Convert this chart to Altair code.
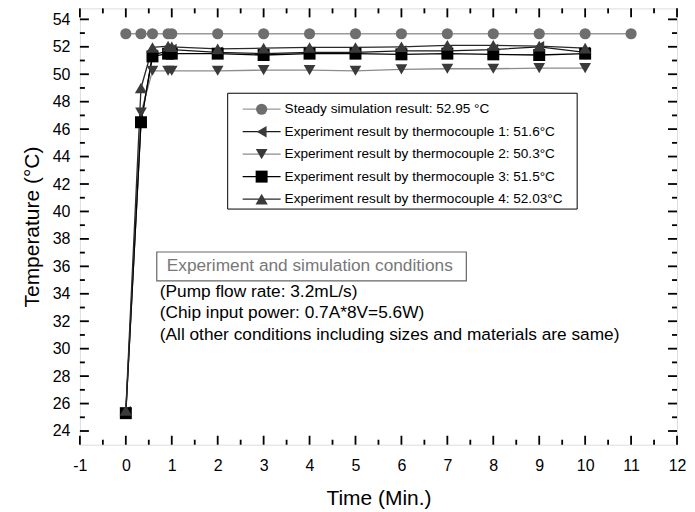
import altair as alt
import pandas as pd

# ---------------- data ----------------
t_sim = [0, 0.33, 0.58, 0.92, 1, 2, 3, 4, 5, 6, 7, 8, 9, 10, 11]
y_sim = [52.95] * 15

t_exp = [0, 0.33, 0.58, 0.92, 1, 2, 3, 4, 5, 6, 7, 8, 9, 10]
tc1 = [25.4, 46.5, 51.4, 51.7, 51.8, 51.6, 51.5, 51.6, 51.6, 51.7, 51.7, 51.8, 52.0, 51.6]
tc2 = [25.3, 47.2, 50.25, 50.25, 50.25, 50.25, 50.3, 50.3, 50.25, 50.35, 50.4, 50.4, 50.45, 50.45]
tc3 = [25.3, 46.5, 51.3, 51.5, 51.5, 51.5, 51.4, 51.5, 51.5, 51.45, 51.5, 51.45, 51.4, 51.5]
tc4 = [25.5, 49.0, 51.95, 52.05, 52.0, 51.85, 51.9, 51.95, 51.95, 52.0, 52.1, 52.1, 52.05, 51.9]

series = ["Steady simulation result: 52.95 °C",
          "Experiment result by thermocouple 1: 51.6°C",
          "Experiment result by thermocouple 2: 50.3°C",
          "Experiment result by thermocouple 3: 51.5°C",
          "Experiment result by thermocouple 4: 52.03°C"]
shapes = ["circle", "triangle-left", "triangle-down", "square", "triangle-up"]
sizes = [125, 150, 150, 75, 150]
marker_colors = ["#6e6e6e", "#3a3a3a", "#3a3a3a", "#000000", "#3a3a3a"]
line_colors = ["#9a9a9a", "#1a1a1a", "#8c8c8c", "#000000", "#2a2a2a"]

x_major = list(range(-1, 13))
x_minor = [v + 0.5 for v in range(-1, 12)]
y_major = list(range(24, 55, 2))
y_minor = list(range(25, 55, 2))

cond_title = "Experiment and simulation conditions"
cond_lines = ["(Pump flow rate: 3.2mL/s)",
              "(Chip input power: 0.7A*8V=5.6W)",
              "(All other conditions including sizes and materials are same)"]

# ---------------- tables ----------------
rows = []
for t, v in zip(t_sim, y_sim):
    rows.append({"t": t, "v": v, "series": series[0]})
for s, vals in zip(series[1:], [tc1, tc2, tc3, tc4]):
    for t, v in zip(t_exp, vals):
        rows.append({"t": t, "v": v, "series": s})
df = pd.DataFrame(rows)

leg = pd.DataFrame({"idx": list(range(5)), "series": series})

W, H = 598, 437
FONT = "Liberation Sans"

xs = alt.Scale(domain=[-1, 12], nice=False, zero=False)
ys = alt.Scale(domain=[23, 54.8], nice=False, zero=False)
stroke_scale = alt.Scale(domain=series, range=line_colors)
fill_scale = alt.Scale(domain=series, range=marker_colors)
shape_scale = alt.Scale(domain=series, range=shapes)
size_scale = alt.Scale(domain=series, range=sizes)

xaxis = alt.Axis(values=x_major, ticks=False, tickSize=0, domain=False, grid=False,
                 labelFontSize=16, labelPadding=13, labelColor="black", labelFont=FONT,
                 labelOverlap=False, labelExpr="'' + datum.value",
                 title="Time (Min.)", titleFontSize=21, titleFontWeight="normal",
                 titleFont=FONT, titlePadding=14, titleColor="black", labelFlush=False)
yaxis = alt.Axis(values=y_major, ticks=False, tickSize=0, domain=False, grid=False,
                 labelFontSize=16, labelPadding=10, labelColor="black", labelFont=FONT,
                 labelOverlap=False, labelExpr="'' + datum.value",
                 title="Temperature (°C)", titleFontSize=21, titleFontWeight="normal",
                 titleFont=FONT, titlePadding=10, titleColor="black", labelFlush=False)

base = alt.Chart(df)
lines = base.mark_line(strokeWidth=1.3).encode(
    x=alt.X("t:Q", scale=xs, axis=xaxis),
    y=alt.Y("v:Q", scale=ys, axis=yaxis),
    stroke=alt.Stroke("series:N", scale=stroke_scale, legend=None),
    detail="series:N",
    order="t:Q",
)
points = base.mark_point(filled=True, opacity=1, strokeWidth=0).encode(
    x=alt.X("t:Q", scale=xs, axis=xaxis),
    y=alt.Y("v:Q", scale=ys, axis=yaxis),
    fill=alt.Fill("series:N", scale=fill_scale, legend=None),
    shape=alt.Shape("series:N", scale=shape_scale, legend=None),
    size=alt.Size("series:N", scale=size_scale, legend=None),
)

def xticks(vals, length, top):
    d = pd.DataFrame({"v": vals})
    if top:
        yy, yy2 = alt.value(0), alt.value(length)
    else:
        yy, yy2 = alt.value(H), alt.value(H - length)
    return alt.Chart(d).mark_rule(color="black", strokeWidth=1.8).encode(
        x=alt.X("v:Q", scale=xs, axis=xaxis), y=yy, y2=yy2)

def yticks(vals, length, right):
    d = pd.DataFrame({"v": vals})
    if right:
        xx, xx2 = alt.value(W), alt.value(W - length)
    else:
        xx, xx2 = alt.value(0), alt.value(length)
    return alt.Chart(d).mark_rule(color="black", strokeWidth=1.8).encode(
        y=alt.Y("v:Q", scale=ys, axis=yaxis), x=xx, x2=xx2)

ticks = [xticks(x_major, 9, False), xticks(x_minor, 5, False),
         xticks(x_major, 9, True), xticks(x_minor, 5, True),
         yticks(y_major, 9, False), yticks(y_minor, 5, False),
         yticks(y_major, 9, True), yticks(y_minor, 5, True)]

main = alt.layer(lines, points, *ticks)

# ---------------- legend (hand drawn box) ----------------
one = pd.DataFrame({"a": [0]})
ly = alt.Scale(domain=[0, 4], range=[101, 191])
leg_box = alt.Chart(one).mark_rect(fill="white", stroke="black", strokeWidth=1).encode(
    x=alt.value(148), x2=alt.value(498), y=alt.value(85), y2=alt.value(201))
leg_lines = alt.Chart(leg).mark_rule(strokeWidth=1.3).encode(
    x=alt.value(163), x2=alt.value(201),
    y=alt.Y("idx:Q", scale=ly, axis=None),
    stroke=alt.Stroke("series:N", scale=stroke_scale, legend=None))
leg_pts = alt.Chart(leg).mark_point(filled=True, opacity=1, strokeWidth=0).encode(
    x=alt.value(182),
    y=alt.Y("idx:Q", scale=ly, axis=None),
    fill=alt.Fill("series:N", scale=fill_scale, legend=None),
    shape=alt.Shape("series:N", scale=shape_scale, legend=None),
    size=alt.Size("series:N", scale=size_scale, legend=None))
leg_txt = alt.Chart(leg).mark_text(align="left", baseline="middle", fontSize=13.6,
                                   font=FONT, color="black").encode(
    x=alt.value(205),
    y=alt.Y("idx:Q", scale=ly, axis=None),
    text="series:N")

cond_box = alt.Chart(one).mark_rect(fill="white", stroke="#666666", strokeWidth=1.2).encode(
    x=alt.value(77), x2=alt.value(387), y=alt.value(244), y2=alt.value(273))
cond_t = alt.Chart(one).mark_text(align="left", baseline="middle", fontSize=17.3,
                                  font=FONT, color="#777777").encode(
    x=alt.value(87), y=alt.value(258.5), text=alt.value(cond_title))
cond_l = alt.Chart(one).mark_text(align="left", baseline="middle", fontSize=17.3,
                                  font=FONT, color="black", lineBreak="\n",
                                  lineHeight=21.5).encode(
    x=alt.value(80), y=alt.value(284), text=alt.value("\n".join(cond_lines)))

legend = alt.layer(leg_box, leg_lines, leg_pts, leg_txt, cond_box, cond_t, cond_l)

chart = alt.layer(main, legend).resolve_scale(y="independent").properties(
    width=W, height=H,
    autosize=alt.AutoSizeParams(type="none"),
    padding={"left": 72, "top": 0, "right": 10, "bottom": 64},
).configure_view(stroke="black", strokeWidth=2).configure_axis(
    labelOverlap=False).configure(background="white")

chart.save("out.html", embed_options={"renderer": "svg", "actions": False})
